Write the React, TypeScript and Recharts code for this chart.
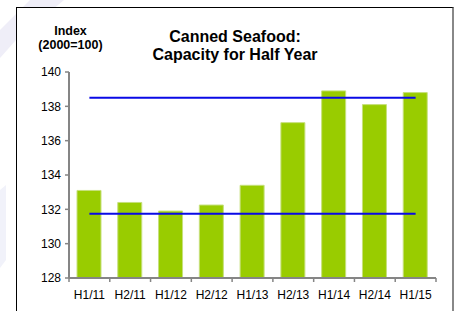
import React from 'react';
import { Bar, BarChart, ReferenceLine, XAxis, YAxis } from 'recharts';

const periods = ['H1/11', 'H2/11', 'H1/12', 'H2/12', 'H1/13', 'H2/13', 'H1/14', 'H2/14', 'H1/15'];
const capacity = [133.1, 132.4, 131.9, 132.25, 133.4, 137.05, 138.9, 138.1, 138.8];
const yTicks = [128, 130, 132, 134, 136, 138, 140];
const upperLevel = 138.5;
const lowerLevel = 131.75;

const data = periods.map((p, i) => ({ period: p, value: capacity[i] }));

const W = 459;
const H = 311;
const PLOT_LEFT = 69;
const PLOT_RIGHT = 436;
const PLOT_TOP = 72;
const PLOT_BOTTOM = 278;
const HALF_BAND = (PLOT_RIGHT - PLOT_LEFT) / periods.length / 2;
const AXIS_GRAY = '#858585';
const FONT = '"Liberation Sans", Arial, sans-serif';

const XTick = (props: any) => {
    const { x, index, payload } = props;
    const last = index === periods.length - 1;
    return (
        <g>
            <line x1={x - HALF_BAND} y1={PLOT_BOTTOM} x2={x - HALF_BAND} y2={PLOT_BOTTOM + 4} stroke={AXIS_GRAY} strokeWidth={1.5} />
            {last && (
                <line x1={x + HALF_BAND} y1={PLOT_BOTTOM} x2={x + HALF_BAND} y2={PLOT_BOTTOM + 4} stroke={AXIS_GRAY} strokeWidth={1.5} />
            )}
            <text x={x} y={298.5} textAnchor="middle" fill="#000" fontSize={12} fontFamily={FONT}>
                {payload.value}
            </text>
        </g>
    );
};

const App = () => {
    return (
        <div style={{ position: 'absolute', left: 0, top: 0, width: W, height: H, overflow: 'hidden', background: '#fff' }}>
            <svg width={W} height={H} style={{ position: 'absolute', left: 0, top: 0 }}>
                <polygon points="30,0 64,0 16,40 0,58 0,30" fill="#efeef8" />
                <polygon points="0,190 6,185 6,260 0,268" fill="#f1f2fa" />
            </svg>
            <div
                style={{
                    position: 'absolute',
                    left: 16,
                    top: 7,
                    width: 435,
                    height: 320,
                    borderLeft: '1px solid #000',
                    borderTop: '1px solid #000',
                    borderRight: '2px solid #888',
                    background: '#fff',
                }}
            />
            <div style={{ position: 'absolute', left: 0, top: 0 }}>
                <BarChart
                    width={W}
                    height={H}
                    data={data}
                    margin={{ top: PLOT_TOP, right: W - PLOT_RIGHT, left: PLOT_LEFT - 50, bottom: 0 }}
                >
                    <XAxis
                        dataKey="period"
                        height={H - PLOT_BOTTOM}
                        axisLine={{ stroke: AXIS_GRAY, strokeWidth: 2 }}
                        tickLine={false}
                        tick={<XTick />}
                        interval={0}
                    />
                    <YAxis
                        width={50}
                        domain={[128, 140]}
                        ticks={yTicks}
                        interval={0}
                        allowDataOverflow
                        axisLine={{ stroke: AXIS_GRAY, strokeWidth: 2 }}
                        tickLine={{ stroke: AXIS_GRAY, strokeWidth: 1.5 }}
                        tickSize={4}
                        tickMargin={4}
                        tick={{ fill: '#000', fontSize: 12, fontFamily: FONT }}
                    />
                    <Bar dataKey="value" fill="#99cc00" stroke="#c6e07c" strokeWidth={1} barSize={24} isAnimationActive={false} />
                    <ReferenceLine
                        segment={[{ x: periods[0], y: upperLevel }, { x: periods[periods.length - 1], y: upperLevel }]}
                        stroke="#0a0ae6"
                        strokeWidth={2}
                    />
                    <ReferenceLine
                        segment={[{ x: periods[0], y: lowerLevel }, { x: periods[periods.length - 1], y: lowerLevel }]}
                        stroke="#0a0ae6"
                        strokeWidth={2}
                    />
                </BarChart>
            </div>
            <svg width={W} height={H} style={{ position: 'absolute', left: 0, top: 0, pointerEvents: 'none' }}>
                <g fontFamily={FONT} fontWeight="bold" fill="#000" textAnchor="middle">
                    <text x={70.5} y={34.5} fontSize={12.5}>Index</text>
                    <text x={70.5} y={48.5} fontSize={12.5}>(2000=100)</text>
                    <text x={235} y={41.5} fontSize={16}>Canned Seafood:</text>
                    <text x={235} y={60} fontSize={16}>Capacity for Half Year</text>
                </g>
            </svg>
        </div>
    );
};

export default App;
